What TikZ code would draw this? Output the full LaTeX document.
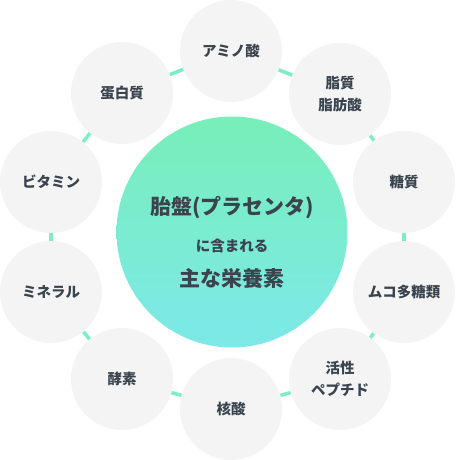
\documentclass[tikz,border=0pt]{standalone}
\usepackage{fontspec}
\setmainfont{Noto Sans CJK JP}
\usetikzlibrary{backgrounds}
\definecolor{txt}{HTML}{3A444E}
\definecolor{bub}{HTML}{F4F4F4}
\definecolor{lnk}{HTML}{7DEEC4}
\definecolor{gtop}{HTML}{78EEB9}
\definecolor{gbot}{HTML}{7DE9E9}
\begin{document}
\begin{tikzpicture}[x=1pt,y=-1pt,
  bubble/.style={circle, fill=bub, minimum size=102pt, inner sep=0pt, align=center,
    text=txt, font=\fontsize{14.5}{22}\selectfont\bfseries},
  link/.style={draw=lnk, line width=3.5pt},
  bigtxt/.style={text=txt, inner sep=0pt, font=\fontsize{21}{24}\selectfont\bfseries},
  smalltxt/.style={text=txt, inner sep=0pt, font=\fontsize{14.5}{18}\selectfont\bfseries}]
\useasboundingbox (0,0) rectangle (455,460);
\node[circle, minimum size=231pt, inner sep=0pt, top color=gtop, bottom color=gbot] (hub) at (232,232) {};
\node[bigtxt] (t1) at (232,208) {胎盤(プラセンタ)};
\node[smalltxt] (t2) at (232,246) {に含まれる};
\node[bigtxt] (t3) at (232,278) {主な栄養素};

\node[bubble] (amino) at (231,51) {アミノ酸};
\node[bubble] (shishitsu) at (340,94) {脂質\\脂肪酸};
\node[bubble] (toshitsu) at (404,182) {糖質};
\node[bubble] (muko) at (404,292) {ムコ多糖類};
\node[bubble] (kassei) at (340,379) {活性\\ペプチド};
\node[bubble] (kakusan) at (231,409) {核酸};
\node[bubble] (koso) at (122,379) {酵素};
\node[bubble] (mineral) at (51,292) {ミネラル};
\node[bubble] (vitamin) at (51,182) {ビタミン};
\node[bubble] (tanpaku) at (122,93) {蛋白質};

\begin{scope}[on background layer]
\draw[link] (amino) -- (shishitsu);
\draw[link] (shishitsu) -- (toshitsu);
\draw[link] (toshitsu) -- (muko);
\draw[link] (muko) -- (kassei);
\draw[link] (kassei) -- (kakusan);
\draw[link] (kakusan) -- (koso);
\draw[link] (koso) -- (mineral);
\draw[link] (mineral) -- (vitamin);
\draw[link] (vitamin) -- (tanpaku);
\draw[link] (tanpaku) -- (amino);
\end{scope}
\end{tikzpicture}
\end{document}
